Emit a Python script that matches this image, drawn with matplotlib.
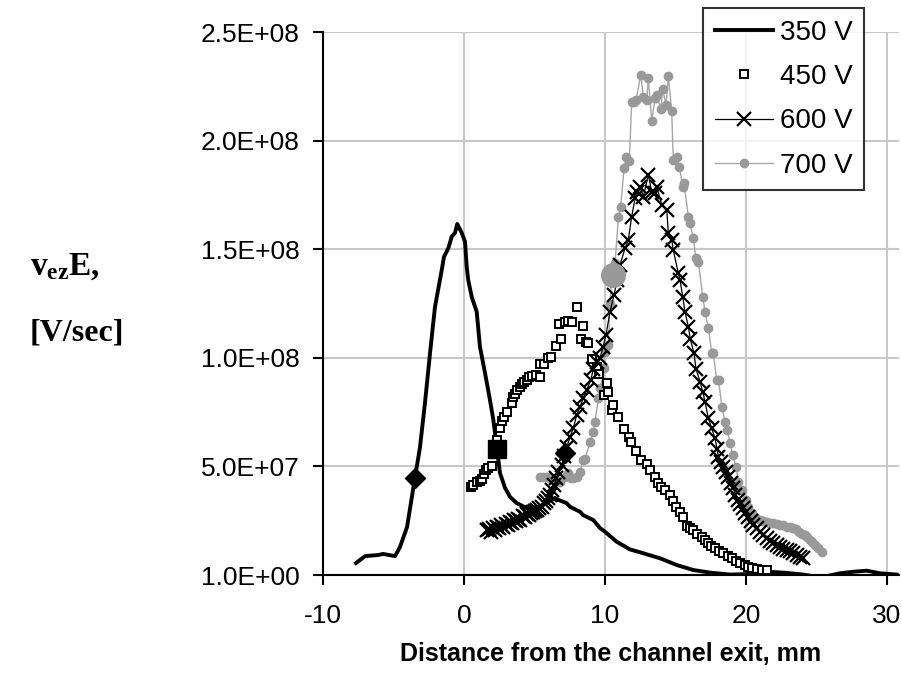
import numpy as np
import matplotlib
matplotlib.use('Agg')
import matplotlib.pyplot as plt
from matplotlib.ticker import FixedLocator, FuncFormatter

plt.rcParams['font.family'] = ['Liberation Sans', 'DejaVu Sans']
plt.rcParams['mathtext.fontset'] = 'custom'
plt.rcParams['mathtext.bf'] = 'Liberation Serif:bold'
plt.rcParams['mathtext.rm'] = 'Liberation Serif'
plt.rcParams['axes.unicode_minus'] = False

# 350 V (solid line)
x350 = [-7.66, -7.02, -6.10, -5.74, -4.89, -4.54, -4.04, -3.48, -3.12, -2.77, -2.41, -2.06,
        -1.58, -1.42, -1.11, -0.87, -0.64, -0.48, -0.16, 0.07, 0.19, 0.30, 0.55, 0.90, 1.13,
        1.49, 1.84, 2.08, 2.32, 2.55, 2.91, 3.26, 3.74, 4.45, 5.39, 6.45, 6.57, 7.28, 7.52,
        8.23, 8.44, 9.17, 9.65, 10.0, 10.83, 11.77, 12.72, 13.9, 15.09, 16.26, 17.45, 18.87,
        20.28, 21.47, 22.65, 24.06, 25.01, 25.72, 26.67, 27.61, 28.56, 29.5, 30.69]
y350 = [5.5e6, 8.7e6, 9.2e6, 9.7e6, 8.7e6, 1.29e7, 2.21e7, 4.47e7, 5.89e7, 7.92e7, 1.022e8, 1.234e8,
        1.404e8, 1.465e8, 1.505e8, 1.558e8, 1.575e8, 1.616e8, 1.575e8, 1.535e8, 1.419e8, 1.358e8,
        1.28e8, 1.212e8, 1.051e8, 9.3e7, 8.06e7, 7.14e7, 5.91e7, 4.70e7, 4.01e7, 3.60e7, 3.31e7,
        3.08e7, 3.14e7, 3.55e7, 3.49e7, 3.31e7, 3.14e7, 2.91e7, 2.76e7, 2.53e7, 2.16e7, 1.99e7,
        1.53e7, 1.18e7, 1.0e7, 7.7e6, 4.6e6, 2.3e6, 1.1e6, 2e5, 4.6e5, 1.5e6, 1.1e6, 2e5, -8e5,
        -5e5, 8e5, 1.5e6, 2.0e6, 8e5, 2e5]

# 450 V (open squares)
x450 = [0.47, 0.66, 0.90, 1.1, 1.25, 1.45, 1.56, 1.73, 1.96, 2.15, 2.36, 2.55, 2.7, 2.84, 3.07,
        3.38, 3.50, 3.65, 3.78, 3.95, 4.09, 4.28, 4.45, 4.63, 4.80, 5.11, 5.39, 5.39, 5.67, 5.98,
        6.15, 6.52, 6.88, 6.76, 7.16, 7.40, 7.64, 7.99, 8.42, 8.30, 8.65, 8.82, 9.06, 9.41, 9.6,
        9.93, 10.12, 10.24, 10.47, 10.59, 10.95, 11.35, 11.72, 11.82, 12.2, 12.53, 12.96, 13.19,
        13.55, 13.78, 14.0, 14.26, 14.61, 14.85, 15.04, 15.3, 15.51, 15.84, 16.05, 16.26, 16.55,
        16.86, 17.1, 17.33, 17.55, 17.8, 18.1, 18.39, 18.7, 18.98, 19.3, 19.57, 19.9, 20.16,
        20.45, 20.76, 21.1, 21.47]
y450 = [4.04e7, 4.14e7, 4.30e7, 4.35e7, 4.42e7, 4.65e7, 4.85e7, 4.94e7, 5.0e7, 5.6e7, 6.22e7,
        6.75e7, 7.1e7, 7.26e7, 7.49e7, 7.90e7, 8.18e7, 8.35e7, 8.52e7, 8.65e7, 8.79e7, 8.90e7,
        9.0e7, 9.10e7, 9.18e7, 9.21e7, 9.10e7, 9.70e7, 9.71e7, 1.00e8, 1.002e8, 1.054e8, 1.087e8,
        1.156e8, 1.166e8, 1.171e8, 1.166e8, 1.232e8, 1.148e8, 1.085e8, 1.071e8, 1.067e8, 9.93e7,
        9.59e7, 9.25e7, 8.29e7, 8.85e7, 8.44e7, 7.6e7, 7.83e7, 7.26e7, 6.71e7, 6.34e7, 6.14e7,
        5.72e7, 5.29e7, 5.11e7, 4.83e7, 4.53e7, 4.22e7, 4.05e7, 3.91e7, 3.68e7, 3.4e7, 3.14e7,
        2.9e7, 2.68e7, 2.26e7, 2.15e7, 2.07e7, 1.9e7, 1.74e7, 1.6e7, 1.46e7, 1.35e7, 1.23e7,
        1.1e7, 1.0e7, 8.8e6, 7.7e6, 6.6e6, 5.7e6, 4.7e6, 3.8e6, 3.1e6, 2.6e6, 2.4e6, 2.3e6]

# 600 V (x markers with line)
x600 = [1.6, 1.75, 1.9, 2.05, 2.2, 2.35, 2.5, 2.65, 2.8, 2.95, 3.1, 3.25, 3.4, 3.55, 3.7, 3.85,
        4.0, 4.15, 4.3, 4.45, 4.6, 4.75, 4.9, 5.05, 5.2, 5.35, 5.5, 5.65, 5.8, 5.95, 6.1, 6.25,
        6.4, 6.55, 6.69, 6.93, 7.1, 7.3, 7.52, 7.75, 7.99, 8.23, 8.46, 8.70, 8.99, 9.17, 9.41,
        9.65, 9.85, 10.07, 10.35, 10.64, 10.85, 11.06, 11.42, 11.65, 11.89, 12.13, 12.25, 12.48,
        12.72, 13.07, 13.31, 13.55, 13.67, 14.02, 14.38, 14.49, 14.73, 14.84, 15.2, 15.32, 15.51,
        15.67, 15.91, 16.05, 16.31, 16.45, 16.74, 16.93, 17.09, 17.33, 17.57, 17.8, 17.95, 18.04,
        18.2, 18.39, 18.55, 18.74, 18.9, 19.1, 19.25, 19.45, 19.6, 19.81, 19.95, 20.16, 20.35,
        20.52, 20.75, 20.99, 21.2, 21.47, 21.7, 21.94, 22.2, 22.41, 22.65, 22.89, 23.1, 23.36,
        23.6, 23.83, 24.06]
y600 = [2.07e7, 2.1e7, 2.0e7, 2.15e7, 2.05e7, 2.2e7, 2.15e7, 2.3e7, 2.2e7, 2.35e7, 2.3e7, 2.45e7,
        2.4e7, 2.55e7, 2.5e7, 2.6e7, 2.55e7, 2.7e7, 2.65e7, 2.8e7, 2.75e7, 2.85e7, 2.9e7, 2.95e7,
        3.0e7, 3.1e7, 3.15e7, 3.3e7, 3.4e7, 3.55e7, 3.7e7, 3.9e7, 4.15e7, 4.45e7, 4.76e7, 5.06e7,
        5.5e7, 5.9e7, 6.37e7, 6.75e7, 7.37e7, 7.75e7, 8.14e7, 8.52e7, 8.98e7, 9.47e7, 9.82e7,
        9.98e7, 1.05e8, 1.105e8, 1.212e8, 1.289e8, 1.36e8, 1.427e8, 1.504e8, 1.542e8, 1.65e8,
        1.734e8, 1.765e8, 1.788e8, 1.742e8, 1.842e8, 1.765e8, 1.757e8, 1.788e8, 1.704e8, 1.68e8,
        1.573e8, 1.542e8, 1.496e8, 1.389e8, 1.358e8, 1.281e8, 1.212e8, 1.143e8, 1.085e8, 1.021e8,
        9.5e7, 8.9e7, 8.44e7, 7.98e7, 7.21e7, 6.75e7, 6.29e7, 5.8e7, 5.45e7, 5.2e7, 4.99e7,
        4.75e7, 4.53e7, 4.25e7, 3.99e7, 3.7e7, 3.45e7, 3.25e7, 3.07e7, 2.85e7, 2.68e7, 2.5e7,
        2.3e7, 2.15e7, 1.99e7, 1.85e7, 1.69e7, 1.57e7, 1.46e7, 1.38e7, 1.3e7, 1.22e7, 1.15e7,
        1.09e7, 1.03e7, 9.3e6, 8.4e6, 7.7e6]

# 700 V (grey dots with line)
x700 = [5.39, 5.62, 5.86, 6.1, 6.33, 6.57, 6.81, 7.16, 7.4, 7.58, 7.75, 7.99, 8.23, 8.46, 8.58,
        8.94, 9.17, 9.29, 9.53, 9.65, 9.93, 10.0, 10.24, 10.35, 10.47, 10.71, 10.95, 11.11, 11.35,
        11.49, 11.72, 11.89, 12.05, 12.2, 12.53, 12.72, 12.96, 13.07, 13.31, 13.55, 13.71, 13.95,
        14.09, 14.33, 14.49, 14.73, 14.84, 15.09, 15.27, 15.51, 15.6, 15.91, 16.03, 16.26, 16.45,
        16.62, 16.93, 17.09, 17.33, 17.57, 17.68, 17.92, 18.05, 18.28, 18.51, 18.67, 18.87, 19.06,
        19.29, 19.46, 19.69, 20.0, 20.16, 20.4, 20.64, 20.99, 21.22, 21.47, 21.7, 21.94, 22.17,
        22.41, 22.65, 22.89, 23.1, 23.36, 23.55, 23.78, 24.0, 24.18, 24.35, 24.54, 24.7, 24.89,
        25.1, 25.37]
y700 = [4.5e7, 4.5e7, 4.5e7, 4.45e7, 4.37e7, 4.35e7, 4.3e7, 4.53e7, 4.68e7, 4.45e7, 4.45e7,
        4.53e7, 4.76e7, 5.29e7, 5.32e7, 6.14e7, 6.6e7, 7.06e7, 8.14e7, 8.6e7, 9.52e7, 1.028e8,
        1.059e8, 1.25e8, 1.358e8, 1.435e8, 1.65e8, 1.696e8, 1.872e8, 1.923e8, 1.907e8, 2.176e8,
        2.18e8, 2.187e8, 2.302e8, 2.202e8, 2.187e8, 2.287e8, 2.092e8, 2.195e8, 2.21e8, 2.144e8,
        2.236e8, 2.164e8, 2.297e8, 2.136e8, 1.911e8, 1.923e8, 1.88e8, 1.788e8, 1.803e8, 1.65e8,
        1.62e8, 1.55e8, 1.458e8, 1.443e8, 1.28e8, 1.212e8, 1.136e8, 1.021e8, 1.02e8, 8.98e7,
        9.0e7, 7.75e7, 7.06e7, 6.68e7, 6.06e7, 5.52e7, 4.99e7, 4.3e7, 3.91e7, 3.45e7, 3.14e7,
        2.84e7, 2.68e7, 2.53e7, 2.5e7, 2.45e7, 2.4e7, 2.38e7, 2.35e7, 2.3e7, 2.3e7, 2.22e7,
        2.2e7, 2.15e7, 2.1e7, 1.99e7, 1.9e7, 1.84e7, 1.75e7, 1.61e7, 1.5e7, 1.38e7, 1.25e7,
        1.07e7]

# highlighted points
diamond_x = [-3.48, 7.16]
diamond_y = [4.47e7, 5.6e7]
square_x = [2.32]
square_y = [5.79e7]
circle_x = [10.55]
circle_y = [1.381e8]

xticks = [-10, 0, 10, 20, 30]
yticks = [1, 5e7, 1e8, 1.5e8, 2e8, 2.5e8]

grey = '#999999'

fig = plt.figure(figsize=(9.03, 6.87), dpi=100)
ax = fig.add_axes([0.3577, 0.163, 0.6379, 0.7904])

l350, = ax.plot(x350, y350, color='black', lw=2.8, solid_joinstyle='round', label='350 V', zorder=3)
l450, = ax.plot(x450, y450, ls='none', marker='s', ms=5.5, mfc='white', mec='black', mew=1.4,
                label='450 V', zorder=4)
l600, = ax.plot(x600, y600, color='black', lw=0.9, marker='x', ms=10, mew=1.6, label='600 V', zorder=5)
l700, = ax.plot(x700, y700, color='#a6a6a6', lw=1.0, marker='o', ms=6, mfc=grey, mec=grey,
                label='700 V', zorder=2)

ax.plot(diamond_x, diamond_y, ls='none', marker='D', ms=10, color='black', zorder=6)
ax.plot(square_x, square_y, ls='none', marker='s', ms=13, color='black', zorder=6)
ax.plot(circle_x, circle_y, ls='none', marker='o', ms=17, color=grey, zorder=6)

ax.set_xlim(-10, 30.85)
ax.set_ylim(1, 2.5e8)
ax.xaxis.set_major_locator(FixedLocator(xticks))
ax.xaxis.set_major_formatter(FuncFormatter(lambda v, p: '%d' % v))
ax.yaxis.set_major_locator(FixedLocator(yticks))
ax.yaxis.set_major_formatter(FuncFormatter(lambda v, p: '%.1E' % v))

ax.grid(True, color='#c8c8c8', lw=1.5)
ax.set_axisbelow(True)
for s in ['top', 'right']:
    ax.spines[s].set_visible(False)
for s in ['left', 'bottom']:
    ax.spines[s].set_linewidth(1.5)
ax.tick_params(axis='both', direction='out', length=7, width=1.5, labelsize=19)
ax.tick_params(axis='x', pad=14)
ax.tick_params(axis='y', pad=10)

ax.set_xlabel('Distance from the channel exit, mm', fontsize=18, fontweight='bold', labelpad=10)

fig.text(0.033, 0.612, r'$\mathbf{v_{ez}E,}$', fontsize=24, ha='left', va='center')
fig.text(0.033, 0.515, '[V/sec]', fontsize=23, fontweight='bold', family='Liberation Serif',
         ha='left', va='center')

leg = fig.legend(handles=[l350, l450, l600, l700], loc='upper left',
                 bbox_to_anchor=(703 / 903, 1 - 8 / 687), fontsize=20, frameon=True,
                 fancybox=False, handlelength=2.1, labelspacing=0.66, handletextpad=0.25,
                 borderpad=0.42, borderaxespad=0)
leg.get_frame().set_edgecolor('black')
leg.get_frame().set_linewidth(1.5)

fig.savefig('out.png', dpi=100)
